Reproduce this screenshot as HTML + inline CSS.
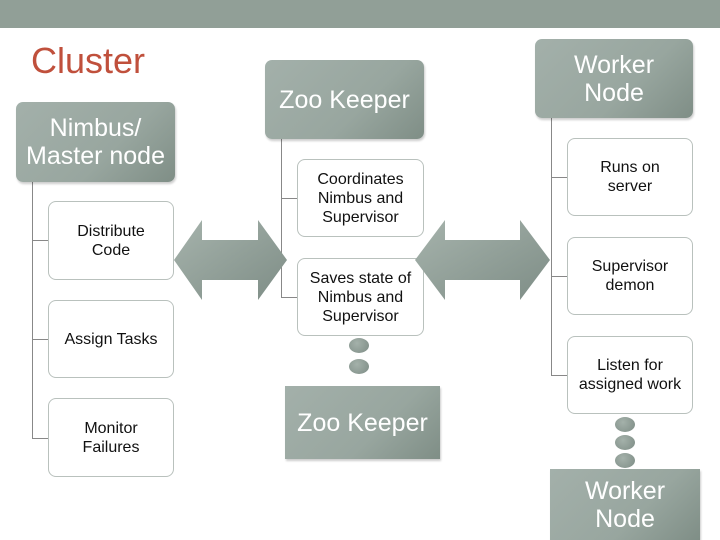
<!DOCTYPE html>
<html><head><style>
body{margin:0;width:720px;height:540px;position:relative;background:#fff;font-family:"Liberation Sans",sans-serif;overflow:hidden}
.band{position:absolute;left:0;top:0;width:720px;height:28px;background:#919f97}
.h{position:absolute;background:linear-gradient(135deg,#a3b0aa 0%,#98a69f 60%,#7f8e86 100%);border-radius:7px;color:#fff;text-align:center;display:flex;align-items:center;justify-content:center;font-size:25px;line-height:28px;box-shadow:1px 2px 2px rgba(0,0,0,.2)}
.c{position:absolute;background:#fff;border:1px solid #b9c1bd;border-radius:8px;color:#111;text-align:center;display:flex;align-items:center;justify-content:center;font-size:16px;line-height:19px;box-sizing:border-box}
.l{position:absolute;background:#888}
.d{position:absolute;width:20px;height:15px;border-radius:50%;background:radial-gradient(circle at 40% 35%,#a4b1aa,#7d8c85)}
</style></head><body>
<div class="band"></div>
<div style="position:absolute;left:31px;top:40px;font-size:36px;color:#c0503c">Cluster</div>

<div class="l" style="left:32px;top:182px;width:1px;height:256px"></div>
<div class="l" style="left:32px;top:240px;width:16px;height:1px"></div>
<div class="l" style="left:32px;top:339px;width:16px;height:1px"></div>
<div class="l" style="left:32px;top:438px;width:16px;height:1px"></div>
<div class="h" style="left:16px;top:102px;width:159px;height:80px">Nimbus/<br>Master node</div>
<div class="c" style="left:48px;top:201px;width:126px;height:79px">Distribute<br>Code</div>
<div class="c" style="left:48px;top:300px;width:126px;height:78px">Assign Tasks</div>
<div class="c" style="left:48px;top:398px;width:126px;height:79px">Monitor<br>Failures</div>

<div class="l" style="left:281px;top:139px;width:1px;height:158px"></div>
<div class="l" style="left:281px;top:198px;width:16px;height:1px"></div>
<div class="l" style="left:281px;top:297px;width:16px;height:1px"></div>
<div class="h" style="left:265px;top:60px;width:159px;height:79px">Zoo Keeper</div>
<div class="c" style="left:297px;top:159px;width:127px;height:78px">Coordinates<br>Nimbus and<br>Supervisor</div>
<div class="c" style="left:297px;top:258px;width:127px;height:78px">Saves state of<br>Nimbus and<br>Supervisor</div>
<div class="d" style="left:349px;top:338px"></div>
<div class="d" style="left:349px;top:359px"></div>
<div class="h" style="left:285px;top:386px;width:155px;height:73px;border-radius:0">Zoo Keeper</div>

<div class="l" style="left:551px;top:118px;width:1px;height:257px"></div>
<div class="l" style="left:551px;top:177px;width:16px;height:1px"></div>
<div class="l" style="left:551px;top:276px;width:16px;height:1px"></div>
<div class="l" style="left:551px;top:375px;width:16px;height:1px"></div>
<div class="h" style="left:535px;top:39px;width:158px;height:79px">Worker<br>Node</div>
<div class="c" style="left:567px;top:138px;width:126px;height:78px">Runs on<br>server</div>
<div class="c" style="left:567px;top:237px;width:126px;height:78px">Supervisor<br>demon</div>
<div class="c" style="left:567px;top:336px;width:126px;height:78px">Listen for<br>assigned work</div>
<div class="d" style="left:615px;top:417px"></div>
<div class="d" style="left:615px;top:435px"></div>
<div class="d" style="left:615px;top:453px"></div>
<div class="h" style="left:550px;top:469px;width:150px;height:71px;border-radius:0">Worker<br>Node</div>

<svg style="position:absolute;left:0;top:0" width="720" height="540">
<defs><linearGradient id="g" x1="0" y1="0" x2="1" y2="1"><stop offset="0" stop-color="#a6b3ac"/><stop offset="1" stop-color="#7e8d86"/></linearGradient></defs>
<polygon points="174,260 202,220 202,240 258,240 258,220 287,260 258,300 258,280 202,280 202,300" fill="url(#g)"/>
<polygon points="415,260 445,220 445,240 520,240 520,220 550,260 520,300 520,280 445,280 445,300" fill="url(#g)"/>
</svg>
</body></html>
